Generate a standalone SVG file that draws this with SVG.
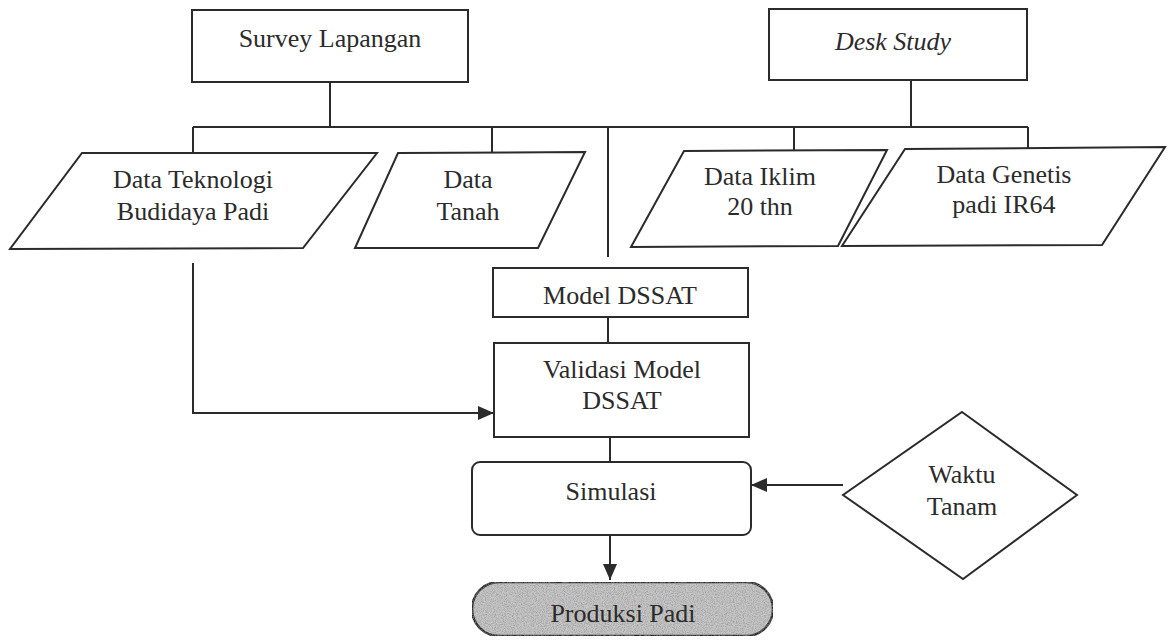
<svg xmlns="http://www.w3.org/2000/svg" width="1170" height="640" viewBox="0 0 1170 640">
  <defs>
    <style>
      .shape { fill: #ffffff; stroke: #2b2b2b; stroke-width: 2; stroke-linejoin: miter; }
      .link { fill: none; stroke: #2b2b2b; stroke-width: 2; }
      .label { font-family: "Liberation Serif", "Times New Roman", serif; font-size: 26px; fill: #2b2b2b; text-anchor: middle; }
      .italic { font-style: italic; }
      .terminal { fill: #c6c6c6; stroke: #2b2b2b; stroke-width: 2.5; }
    </style>
    <marker id="arrow" markerUnits="userSpaceOnUse" markerWidth="16" markerHeight="14" refX="16" refY="7" orient="auto">
      <path d="M0,0 L16,7 L0,14 z" fill="#2b2b2b"/>
    </marker>
    <!-- stippled shading for the output terminal -->
    <filter id="stipple" x="0" y="0" width="100%" height="100%">
      <feTurbulence type="fractalNoise" baseFrequency="0.9" numOctaves="2" seed="4" result="noise"/>
      <feColorMatrix in="noise" type="matrix" values="0 0 0 0 0.25  0 0 0 0 0.25  0 0 0 0 0.25  1.6 0 0 0 -0.6" result="specks"/>
      <feComposite in="specks" in2="SourceGraphic" operator="in" result="clipped"/>
      <feMerge>
        <feMergeNode in="SourceGraphic"/>
        <feMergeNode in="clipped"/>
      </feMerge>
    </filter>
  </defs>

  <rect width="1170" height="640" fill="#ffffff"/>

  <!-- connectors -->
  <g id="connectors">
    <!-- sources to the shared bus -->
    <path class="link" d="M330,82 V127"/>
    <path class="link" d="M911,80 V127"/>
    <path class="link" d="M193,127 H1028"/>
    <!-- bus drops to the data inputs -->
    <path class="link" d="M193,127 V153"/>
    <path class="link" d="M492,127 V152"/>
    <path class="link" d="M794,127 V151"/>
    <path class="link" d="M1028,127 V149"/>
    <!-- bus to model -->
    <path class="link" d="M608,127 V257"/>
    <!-- model chain -->
    <path class="link" d="M608,317 V343"/>
    <path class="link" d="M610,437 V462"/>
    <path class="link" d="M610,535 V580" marker-end="url(#arrow)"/>
    <!-- field data to validation -->
    <path class="link" d="M193,263 V413 H494" marker-end="url(#arrow)"/>
    <!-- planting time to simulation -->
    <path class="link" d="M843,485 H751" marker-end="url(#arrow)"/>
  </g>

  <g id="survey-lapangan">
    <rect class="shape" x="192" y="10" width="276" height="72"/>
    <text class="label" x="330" y="47">Survey Lapangan</text>
  </g>

  <g id="desk-study">
    <rect class="shape" x="769" y="9" width="258" height="71"/>
    <text class="label italic" x="893" y="50">Desk Study</text>
  </g>

  <g id="data-teknologi">
    <polygon class="shape" points="82,153 377,153 303,248 10,249"/>
    <text class="label" x="193" y="188">Data Teknologi</text>
    <text class="label" x="193" y="220">Budidaya Padi</text>
  </g>

  <g id="data-tanah">
    <polygon class="shape" points="398,153 585,152 538,248 355,248"/>
    <text class="label" x="468" y="188">Data</text>
    <text class="label" x="468" y="220">Tanah</text>
  </g>

  <g id="data-iklim">
    <polygon class="shape" points="684,151 887,150 838,246 631,247"/>
    <text class="label" x="760" y="185">Data Iklim</text>
    <text class="label" x="760" y="215">20 thn</text>
  </g>

  <g id="data-genetis">
    <polygon class="shape" points="905,149 1165,147 1102,245 842,246"/>
    <text class="label" x="1004" y="183">Data Genetis</text>
    <text class="label" x="1004" y="213">padi IR64</text>
  </g>

  <g id="model-dssat">
    <rect class="shape" x="493" y="268" width="255" height="49"/>
    <text class="label" x="620" y="304">Model DSSAT</text>
  </g>

  <g id="validasi-model">
    <rect class="shape" x="494" y="343" width="255" height="94"/>
    <text class="label" x="622" y="378">Validasi Model</text>
    <text class="label" x="622" y="409">DSSAT</text>
  </g>

  <g id="simulasi">
    <rect class="shape" x="472" y="462" width="279" height="73" rx="8" ry="8"/>
    <text class="label" x="611" y="500">Simulasi</text>
  </g>

  <g id="waktu-tanam">
    <polygon class="shape" points="962,412 1077,495 963,579 843,495"/>
    <text class="label" x="962" y="483">Waktu</text>
    <text class="label" x="962" y="515">Tanam</text>
  </g>

  <g id="produksi-padi">
    <rect class="terminal" x="472" y="582" width="301" height="54" rx="27" ry="27" filter="url(#stipple)"/>
    <text class="label" x="623" y="622">Produksi Padi</text>
  </g>
</svg>
